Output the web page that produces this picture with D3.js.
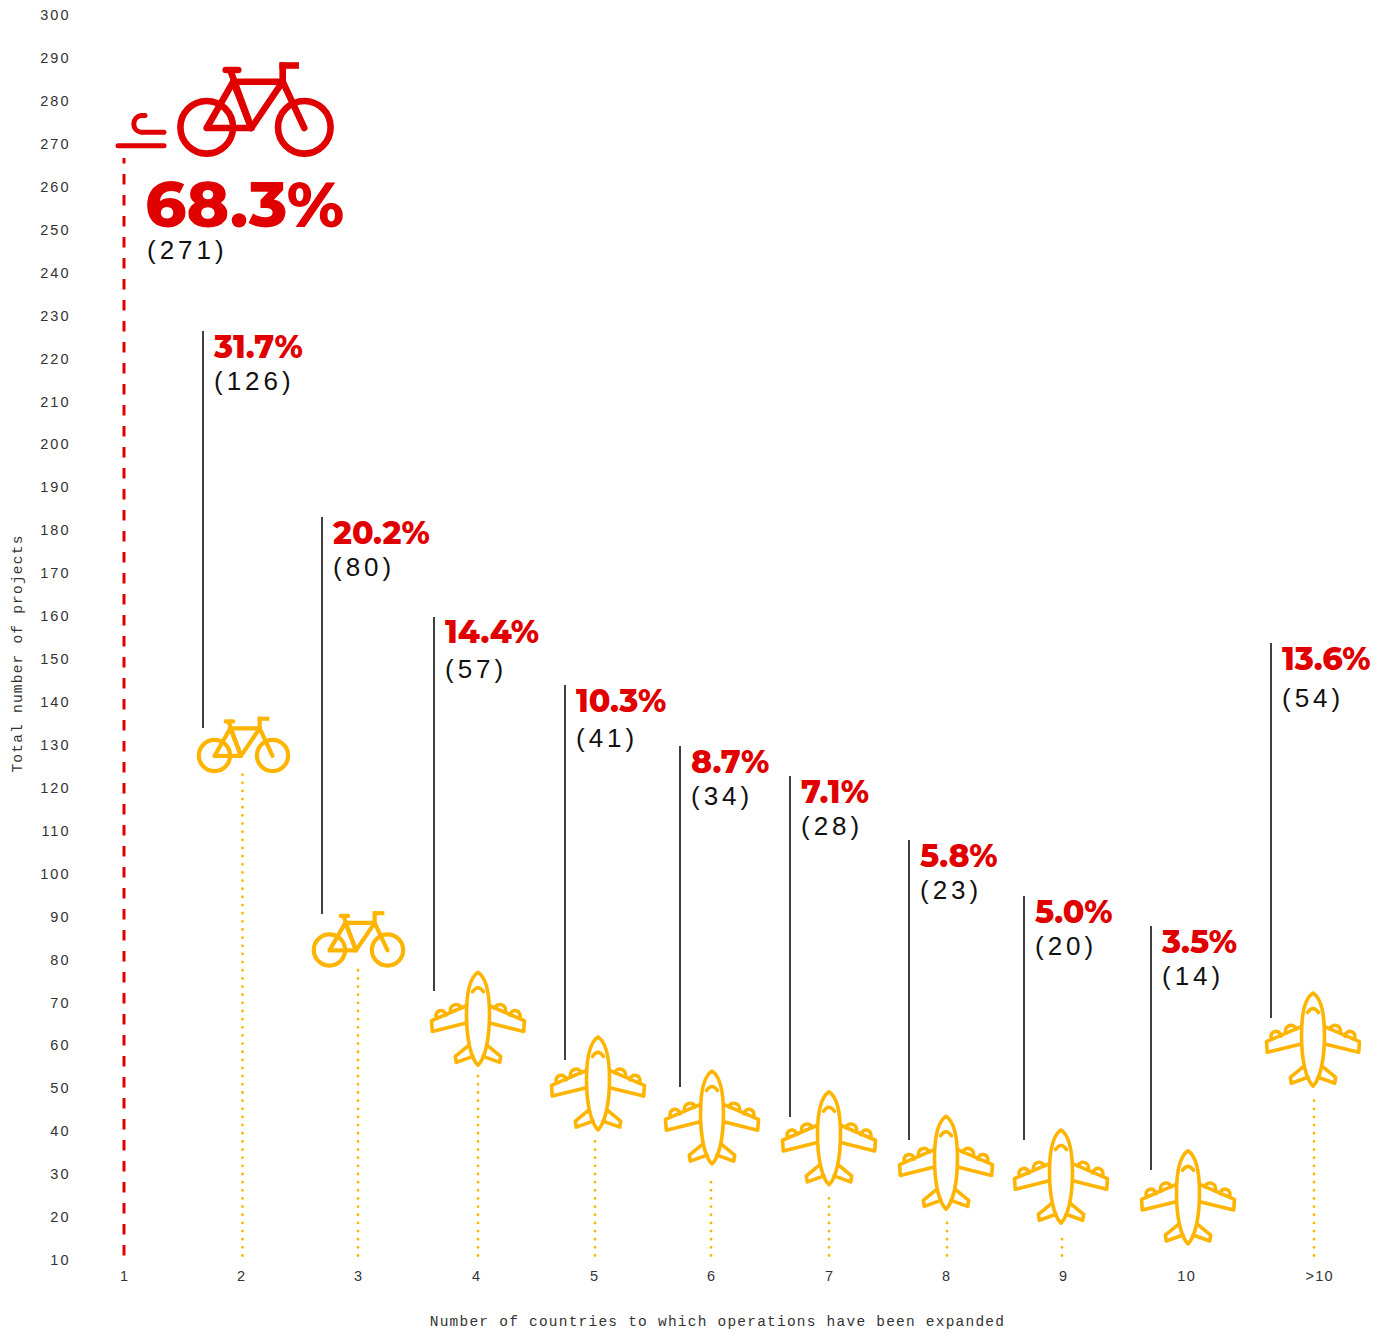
<!DOCTYPE html>
<html><head><meta charset="utf-8">
<script src="https://cdnjs.cloudflare.com/ajax/libs/d3/7.8.5/d3.min.js"></script>
<style>html,body{margin:0;padding:0;background:#fff}svg{display:block}</style></head>
<body><div id="chart"></div>
<script>
const categories = ["1","2","3","4","5","6","7","8","9","10",">10"];
const counts = [271,126,80,57,41,34,28,23,20,14,54];
const shares = ["68.3%","31.7%","20.2%","14.4%","10.3%","8.7%","7.1%","5.8%","5.0%","3.5%","13.6%"];
const yTicks = d3.range(10,301,10);
const xTitle = "Number of countries to which operations have been expanded";
const yTitle = "Total number of projects";

// layout
const W=1393,H=1333,RED="#e00000",YEL="#ffb400";
const x = d3.scaleOrdinal().domain(categories).range([124,242.5,358,478,595,711,829,947,1062,1188,1314]);
const tickX = d3.scaleOrdinal().domain(categories).range([124.7,241.7,358.7,476.7,594.7,711.7,829.7,946.7,1063.7,1186.7,1319.7]);
const y = d3.scaleLinear().domain([10,300]).range([1260.5,15.5]);
// offsets relative to each item's x(cat) and y(count)
const iconDy  = [0,-7,-10,-40,-44,-40,-45,-42,-41,-46,-32];
const iconDx  = [0,1,0.5,0,3,1,0,-1,-1,0,-1];
const dotGap  = [0,12,3,12,11,19,12,13,17,0,22];
const leadDx  = [0,-39.5,-36,-44,-30,-31,-39,-38,-38,-37,-43];
const leadTop = [0,331,517,617,685,746,776,840,896,926,643];
const leadBot = [0,728,914,991,1060,1087,1117,1140,1140,1170,1018];
const pctBase = [0,358,544,643,712,773,803,867,923,953,670];
const cntBase = [0,390,576,678,747,805,835,899,955,985,707];

const svg=d3.select("#chart").append("svg").attr("width",W).attr("height",H);
const AX="'Liberation Sans',Arial,sans-serif", MONO="'Liberation Mono',monospace", BOLD="Montserrat,'Lato','Noto Sans',sans-serif";

// y axis
const yAxis=d3.axisLeft(y).tickValues(yTicks).tickSize(0).tickPadding(0);
const gy=svg.append("g").attr("transform","translate(70.5,-0.5)").call(yAxis);
gy.select(".domain").remove();
gy.selectAll("text").attr("font-family",AX).attr("font-size",14.5).attr("letter-spacing",2).attr("fill","#333");

// x ticks
svg.append("g").selectAll("text").data(categories).join("text")
  .attr("x",d=>tickX(d)).attr("y",1281).attr("text-anchor","middle")
  .attr("font-family",AX).attr("font-size",14.5).attr("letter-spacing",1.3).attr("fill","#333").text(d=>d);

svg.append("text").attr("x",717.5).attr("y",1326).attr("text-anchor","middle")
  .attr("font-family",MONO).attr("font-size",14.5).attr("letter-spacing",1.22).attr("fill","#333").text(xTitle);
svg.append("text").attr("transform","translate(22,653.5) rotate(-90)").attr("text-anchor","middle")
  .attr("font-family",MONO).attr("font-size",14.5).attr("letter-spacing",1.22).attr("fill","#333").text(yTitle);

// icon shapes, drawn around their centre
const bikeWheelR=26.3, bikePaths=[
  "M0,0.7 L26.6,-45.6 L44.6,0.7 L0,0.7",
  "M26.6,-45.6 L76,-45.6 L44.6,0.7",
  "M76,-45.6 L97.6,0.7",
  "M76,-45.6 L76,-62",
  "M19,-57.3 L31.5,-57.3",
  "M24,-56 L44.6,0.7"
];
function bike(g,cx,cy,k,color,sw){
  const n=g.append("g").attr("transform",`translate(${cx},${cy}) scale(${k}) translate(-48.8,0)`)
    .attr("fill","none").attr("stroke",color).attr("stroke-width",sw).attr("stroke-linecap","round").attr("stroke-linejoin","round");
  n.selectAll("circle").data([0,97.6]).join("circle").attr("cx",d=>d).attr("cy",0).attr("r",bikeWheelR);
  n.selectAll("path.f").data(bikePaths).join("path").attr("class","f").attr("d",d=>d);
  n.append("path").attr("d","M72.6,-61.8 L92.3,-61.8").attr("stroke-linecap","butt");
  return n;
}
function plane(g,cx,cy,color){
  const half=[
    "M-11.7,-13 L-46.5,2 L-45.7,12.7 L-11.7,4.3",
    "M-9.3,26.7 L-22.7,37.7 L-21.7,43.7 L-5,37.7",
    "M-41.2,-0.5 A5,5 0 1 1 -32,-3.5",
    "M-27.2,-6.6 A5.6,5.6 0 1 1 -16.6,-10.6",
  ];
  const n=g.append("g").attr("transform",`translate(${cx},${cy})`)
    .attr("fill","none").attr("stroke",color).attr("stroke-width",3.6).attr("stroke-linejoin","round").attr("stroke-linecap","round");
  n.append("path").attr("d","M0,-46.5 C-7,-42 -11.5,-28 -11.5,-4 C-11.5,20 -7,40 0,46.5 C7,40 11.5,20 11.5,-4 C11.5,-28 7,-42 0,-46.5 Z");
  n.append("path").attr("d","M-5.5,-27 Q0,-35 5.5,-27");
  [1,-1].forEach(s=>{
    n.append("g").attr("transform",`scale(${s},1)`).selectAll("path").data(half).join("path").attr("d",d=>d);
  });
}

// first item
const c0=categories[0];
svg.append("line").attr("x1",x(c0)).attr("x2",x(c0)).attr("y1",y(10)-5).attr("y2",158)
  .attr("stroke",RED).attr("stroke-width",3).attr("stroke-dasharray","10.5 10.5");
svg.append("path").attr("fill","none").attr("stroke",RED).attr("stroke-width",5).attr("stroke-linecap","round")
  .attr("d","M118,145.7 L164,145.7 M164,132.3 L141,132.3 A8.5,8.5 0 0 1 141,115.5 L145,115.5");
bike(svg,255.5,127.3,1,RED,6.6);
svg.append("text").attr("x",145).attr("y",227).attr("font-family",BOLD).attr("font-weight",800).attr("font-size",64).attr("fill",RED).text(shares[0]);
svg.append("text").attr("x",147).attr("y",259).attr("font-family",AX).attr("font-size",26).attr("letter-spacing",4).attr("fill","#111").text(`(${counts[0]})`);

// other items
const items=categories.map((c,i)=>({c,i,v:counts[i],p:shares[i]})).slice(1);
items.forEach(d=>{
  const cx=x(d.c), yv=y(d.v), i=d.i;
  if(dotGap[i]>0){
    svg.append("line").attr("x1",cx).attr("x2",cx).attr("y1",y(10)-5).attr("y2",yv+dotGap[i])
      .attr("stroke",YEL).attr("stroke-width",2.8).attr("stroke-linecap","round").attr("stroke-dasharray","0 8.15");
  }
  const lx=cx+leadDx[i];
  svg.append("line").attr("x1",lx).attr("x2",lx).attr("y1",leadTop[i]).attr("y2",leadBot[i]).attr("stroke","#000").attr("stroke-width",1.5);
  svg.append("text").attr("x",lx+11).attr("y",pctBase[i]).attr("font-family",BOLD).attr("font-weight",800).attr("font-size",31.6).attr("fill",RED).text(d.p);
  svg.append("text").attr("x",lx+11).attr("y",cntBase[i]).attr("font-family",AX).attr("font-size",26).attr("letter-spacing",4).attr("fill","#111").text(`(${d.v})`);
  if(i<3) bike(svg,cx+iconDx[i],yv+iconDy[i],0.595,YEL,7);
  else plane(svg,cx+iconDx[i],yv+iconDy[i],YEL);
});
</script></body></html>
